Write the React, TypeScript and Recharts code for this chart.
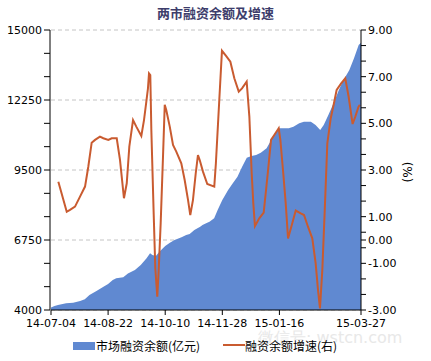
import React from 'react';
import { ComposedChart, Area, Line, XAxis, YAxis, CartesianGrid } from 'recharts';

// Days since 2014-07-04 (x positions of the financing balance series)
const balanceDays = [0, 3, 6, 13, 19, 25, 29, 33, 39, 45, 49, 53, 56, 62, 66, 72, 77, 82, 85, 87, 90, 93, 98, 102, 106, 112, 116, 119, 123, 128, 130, 134, 136, 140, 143, 147, 152, 156, 160, 164, 168, 172, 176, 180, 185, 189, 193, 196, 204, 208, 213, 217, 223, 227, 231, 234, 238, 243, 247, 251, 256, 260, 264, 266];
// 市场融资余额 (亿元)
const balanceValues = [4100, 4157, 4196, 4262, 4288, 4354, 4420, 4589, 4746, 4916, 5021, 5179, 5245, 5285, 5430, 5572, 5768, 6030, 6227, 6161, 6122, 6291, 6515, 6645, 6750, 6856, 6947, 6986, 7143, 7273, 7340, 7430, 7469, 7603, 7929, 8322, 8715, 8977, 9239, 9630, 9984, 10050, 10090, 10180, 10353, 10679, 11006, 11139, 11140, 11200, 11335, 11400, 11400, 11270, 11072, 11270, 11660, 12184, 12643, 13036, 13430, 13889, 14411, 14500];

// Days since 2014-07-04 (x positions of the growth-rate series)
const rateDays = [6.3, 13.5, 16.3, 20.6, 24.9, 29.2, 32, 34.9, 37.8, 42, 44.9, 49.2, 52.1, 56.4, 59.2, 62.6, 65, 67.2, 70.4, 73.2, 77.5, 79.8, 81.8, 83.2, 84.1, 85.2, 86.1, 88.1, 89.5, 91.2, 92.4, 94.1, 96.1, 97.6, 98.9, 101.9, 104.7, 107.5, 111.8, 114.7, 117.6, 119.5, 121.8, 124.2, 126.1, 127.6, 130.4, 134.1, 140.1, 141.5, 144.4, 146.7, 150.2, 153.9, 157.3, 161.1, 163.9, 167.9, 170.2, 172.2, 173.6, 175, 178.7, 182.5, 186, 188.8, 191.6, 195.4, 196.8, 199.3, 201.4, 203.4, 206.2, 210, 214.3, 217.1, 220.5, 224.2, 227.1, 229.1, 230.8, 232.8, 234.9, 237.1, 240, 242.8, 245.1, 249, 252.5, 255.4, 258.8, 261.1, 263.9, 265];
// 融资余额增速 (%)
const rateValues = [2.5, 1.21, 1.29, 1.43, 1.86, 2.29, 3.14, 4.17, 4.29, 4.43, 4.36, 4.29, 4.36, 4.36, 3.43, 1.79, 2.43, 4.0, 5.14, 4.86, 4.46, 5.14, 5.93, 6.5, 7.14, 7.07, 4.71, 1.14, -1.21, -2.43, -1.29, 0.71, 3.57, 5.79, 5.57, 4.86, 4.07, 3.79, 3.29, 2.57, 1.71, 1.07, 1.71, 2.86, 3.64, 3.43, 2.93, 2.4, 2.29, 3.3, 6.0, 8.11, 7.89, 7.64, 6.93, 6.36, 6.5, 6.79, 5.29, 2.86, 1.57, 0.6, 0.93, 1.17, 2.86, 4.29, 4.5, 4.79, 4.29, 2.86, 1.57, 0.07, 0.57, 1.26, 1.14, 1.07, 0.57, 0.07, -1.0, -2.14, -2.93, -1.29, 1.29, 4.14, 5.21, 5.86, 6.43, 6.71, 6.93, 6.14, 4.97, 5.29, 5.71, 5.79];

const xTickDays = [0, 49, 98, 147, 196, 266];
const xTickLabels = ['14-07-04', '14-08-22', '14-10-10', '14-11-28', '15-01-16', '15-03-27'];

const leftTicks = [4000, 4916.67, 5833.33, 6750, 7666.67, 8583.33, 9500, 10416.67, 11333.33, 12250, 13166.67, 14083.33, 15000];
const leftLabeled = [4000, 6750, 9500, 12250, 15000];
const gridValues = [6750, 9500, 12250, 15000];

const rightTicks = [-3, -2.333, -1.667, -1, -0.333, 0, 0.333, 1, 1.667, 2.333, 3, 3.667, 4.333, 5, 5.667, 6.333, 7, 7.667, 8.333, 9];
const rightLabeled = [-3, -1, 0, 1, 3, 5, 7, 9];

const title = '两市融资余额及增速';
const balanceName = '市场融资余额(亿元)';
const rateName = '融资余额增速(右)';
const watermark = '微信号: wstcn.com';

type Row = { day: number; balance?: number; rate?: number };
const rows: Row[] = [];
balanceDays.forEach((d, i) => rows.push({ day: d, balance: balanceValues[i] }));
rateDays.forEach((d, i) => rows.push({ day: d, rate: rateValues[i] }));
rows.sort((a, b) => a.day - b.day);

const AREA_COLOR = '#6089d1';
const LINE_COLOR = '#c95b30';
const tickStyle = { fontSize: 11, fontFamily: 'DejaVu Sans, Verdana, sans-serif', fill: '#000' };

export default function App() {
  return (
    <div style={{ position: 'absolute', left: 0, top: 0, width: 431, height: 361, background: '#fff', overflow: 'hidden' }}>
      <div style={{ position: 'absolute', left: 0, top: 0 }}>
        <ComposedChart width={431} height={361} data={rows} margin={{ top: 30, right: 0, bottom: 26, left: 0 }}>
          <CartesianGrid yAxisId="grid" vertical={false} stroke="#c4c4c4" strokeDasharray="4 3" />
          <XAxis
            dataKey="day"
            type="number"
            domain={[0, 266]}
            ticks={xTickDays}
            interval={0}
            allowDataOverflow
            tickFormatter={(v: number) => xTickLabels[xTickDays.indexOf(v)] ?? ''}
            tick={tickStyle}
            stroke="#000"
            tickSize={5}
            tickMargin={4}
            height={25}
          />
          <YAxis
            yAxisId="grid"
            orientation="left"
            domain={[4000, 15000]}
            ticks={gridValues}
            interval={0}
            allowDataOverflow
            tickFormatter={() => ''}
            tick={{ fontSize: 1 }}
            tickLine={false}
            axisLine={false}
            width={1}
          />
          <YAxis
            yAxisId="left"
            orientation="left"
            domain={[4000, 15000]}
            ticks={leftTicks}
            interval={0}
            allowDataOverflow
            tickFormatter={(v: number) => (leftLabeled.includes(v) ? String(v) : '')}
            tick={tickStyle}
            stroke="#000"
            tickSize={6}
            tickMargin={2}
            width={50}
          />
          <YAxis
            yAxisId="right"
            orientation="right"
            domain={[-3, 9]}
            ticks={rightTicks}
            interval={0}
            allowDataOverflow
            tickFormatter={(v: number) => (rightLabeled.includes(v) ? v.toFixed(2) : '')}
            tick={tickStyle}
            stroke="#000"
            tickSize={5}
            tickMargin={2}
            width={70}
          />
          <Area
            yAxisId="left"
            dataKey="balance"
            type="linear"
            fill={AREA_COLOR}
            fillOpacity={1}
            stroke="none"
            connectNulls
            isAnimationActive={false}
          />
          <Line
            yAxisId="right"
            dataKey="rate"
            type="linear"
            stroke={LINE_COLOR}
            strokeWidth={2}
            dot={false}
            connectNulls
            isAnimationActive={false}
          />
        </ComposedChart>
      </div>

      <div style={{ position: 'absolute', left: 0, width: 431, top: 4, textAlign: 'center', fontFamily: 'Noto Sans CJK SC, sans-serif', fontSize: 13, fontWeight: 'bold', color: '#3d3d6b', lineHeight: '18px' }}>
        {title}
      </div>

      <div style={{ position: 'absolute', left: 398, top: 163, width: 18, height: 18, fontFamily: 'DejaVu Sans, sans-serif', fontSize: 12, color: '#000', transform: 'rotate(90deg)', transformOrigin: 'center', display: 'flex', alignItems: 'center', justifyContent: 'center', whiteSpace: 'nowrap' }}>
        (%)
      </div>

      <div style={{ position: 'absolute', left: 258, top: 329, fontFamily: 'DejaVu Sans, sans-serif', fontSize: 16, color: '#e8e8e8', whiteSpace: 'nowrap', lineHeight: '18px' }}>
        {watermark}
      </div>

      <div style={{ position: 'absolute', left: 73, top: 342, width: 22, height: 8, background: AREA_COLOR }} />
      <div style={{ position: 'absolute', left: 96, top: 337, fontFamily: 'Noto Sans CJK SC, sans-serif', fontSize: 12, color: '#000', lineHeight: '17px', whiteSpace: 'nowrap' }}>
        {balanceName}
      </div>
      <div style={{ position: 'absolute', left: 223, top: 344, width: 22, height: 2, background: LINE_COLOR }} />
      <div style={{ position: 'absolute', left: 245, top: 337, fontFamily: 'Noto Sans CJK SC, sans-serif', fontSize: 12, color: '#000', lineHeight: '17px', whiteSpace: 'nowrap' }}>
        {rateName}
      </div>
    </div>
  );
}
